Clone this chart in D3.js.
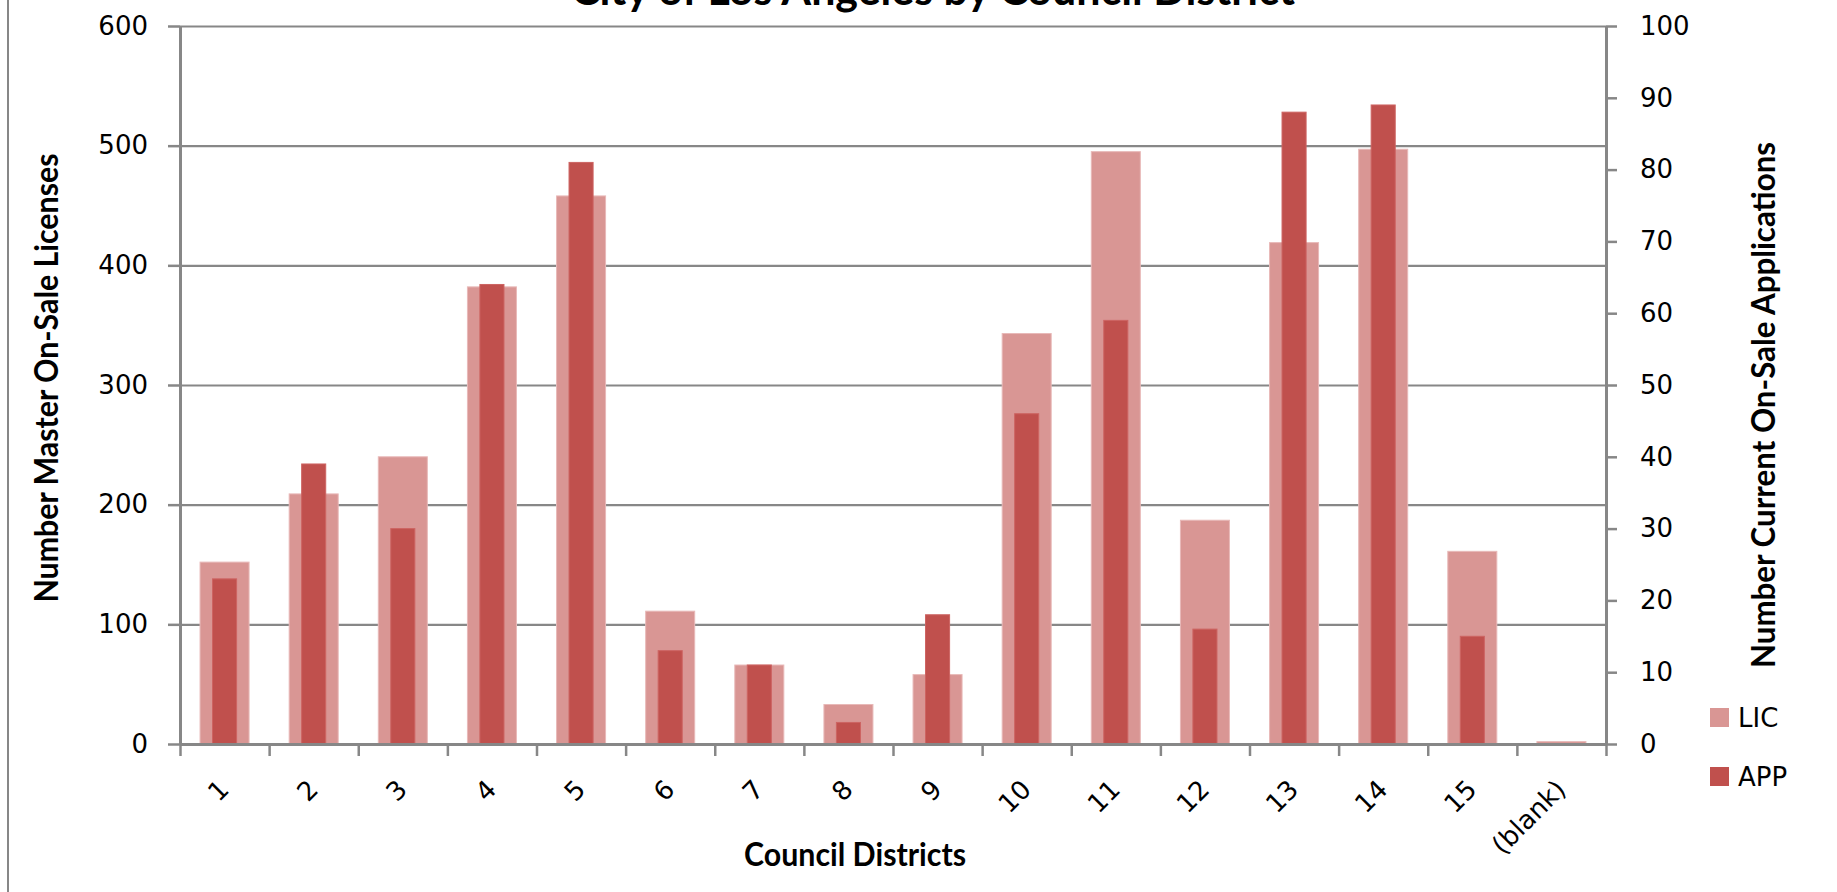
<!DOCTYPE html>
<html>
<head>
<meta charset="utf-8">
<script src="https://cdn.jsdelivr.net/npm/d3@7"></script>
<style>
  body { margin: 0; background: #fff; }
  .tick text { font-family: "DejaVu Sans", Verdana, sans-serif; font-size: 26px; fill: #000; }
  .ttl { font-family: Lato, "Open Sans", sans-serif; font-weight: bold; fill: #000; }
</style>
</head>
<body>
<script>
// values
const districts = ["1", "2", "3", "4", "5", "6", "7", "8", "9", "10", "11", "12", "13", "14", "15", "(blank)"];
const licValues = [152, 209, 240, 382, 458, 111, 66, 33, 58, 343, 495, 187, 419, 497, 161, 2];
const appValues = [23, 39, 30, 64, 81, 13, 11, 3, 18, 46, 59, 16, 88, 89, 15, 0];
const leftTicks = [0, 100, 200, 300, 400, 500, 600];
const rightTicks = [0, 10, 20, 30, 40, 50, 60, 70, 80, 90, 100];
const seriesNames = ["LIC", "APP"];
const seriesColors = ["#d99694", "#c0504d"];

const w = 1837;
const h = 892;
const plotL = 180, plotR = 1606, plotT = 26, plotB = 744;
const gridColor = "#878787";

const svg = d3.select("body").append("svg")
  .attr("width", w)
  .attr("height", h);

// left border of the chart area
svg.append("line")
  .attr("x1", 8).attr("x2", 8)
  .attr("y1", 0).attr("y2", h)
  .attr("stroke", gridColor)
  .attr("stroke-width", 2);

// scales
const xScale = d3.scaleBand()
  .domain(districts)
  .range([plotL, plotR])
  .paddingInner(0)
  .paddingOuter(0);

const xEdges = d3.scaleLinear()
  .domain([0, districts.length])
  .range([plotL, plotR]);

const yLeft = d3.scaleLinear()
  .domain([0, 600])
  .range([plotB, plotT]);

const yRight = d3.scaleLinear()
  .domain([0, 100])
  .range([plotB, plotT]);

// gridlines
svg.append("g")
  .attr("transform", `translate(${plotL},0)`)
  .call(d3.axisLeft(yLeft).tickValues(leftTicks).tickSize(-(plotR - plotL)).tickFormat(""))
  .call(g => g.select(".domain").remove())
  .call(g => g.selectAll("line").attr("stroke", gridColor).attr("stroke-width", 2.2));

// bars
const bw = xScale.bandwidth();
svg.append("g").selectAll("rect")
  .data(licValues)
  .enter()
  .append("rect")
  .attr("x", (d, i) => xScale(districts[i]) + bw / 2 - bw * 0.275)
  .attr("y", d => yLeft(d))
  .attr("width", bw * 0.55)
  .attr("height", d => plotB - yLeft(d))
  .attr("fill", seriesColors[0])
  .attr("stroke", "#e8b9b8")
  .attr("stroke-width", 1);

svg.append("g").selectAll("rect")
  .data(appValues)
  .enter()
  .append("rect")
  .attr("x", (d, i) => xScale(districts[i]) + bw / 2 - bw * 0.135)
  .attr("y", d => yRight(d))
  .attr("width", bw * 0.27)
  .attr("height", d => plotB - yRight(d))
  .attr("fill", seriesColors[1])
  .attr("stroke", d => d > 0 ? "#cd6462" : "none")
  .attr("stroke-width", 1);

// axes
const styleAxis = g => {
  g.select(".domain").attr("stroke", gridColor).attr("stroke-width", 3);
  g.selectAll(".tick line").attr("stroke", gridColor).attr("stroke-width", 2.5);
};

svg.append("g")
  .attr("transform", `translate(${plotL},0)`)
  .call(d3.axisLeft(yLeft).tickValues(leftTicks).tickSize(12).tickSizeOuter(0).tickPadding(20))
  .call(styleAxis);

svg.append("g")
  .attr("transform", `translate(${plotR},0)`)
  .call(d3.axisRight(yRight).tickValues(rightTicks).tickSize(11).tickSizeOuter(0).tickPadding(23))
  .call(styleAxis);

// x axis: tick marks at category edges
svg.append("g")
  .attr("transform", `translate(0,${plotB})`)
  .call(d3.axisBottom(xEdges).tickValues(d3.range(districts.length + 1)).tickSize(12).tickSizeOuter(0).tickFormat(""))
  .call(styleAxis);

// x labels, rotated
svg.append("g")
  .attr("transform", `translate(0,${plotB})`)
  .call(d3.axisBottom(xScale).tickSize(0).tickSizeOuter(0))
  .call(g => g.select(".domain").remove())
  .call(g => g.selectAll(".tick text")
    .attr("text-anchor", "end")
    .attr("dy", null)
    .attr("y", 0)
    .attr("transform", "translate(6,47) rotate(-45)"));

// titles (the chart title is cropped at the top edge, as in the source image)
svg.append("text")
  .attr("class", "ttl")
  .attr("x", 933)
  .attr("y", 5)
  .attr("text-anchor", "middle")
  .attr("font-size", 44)
  .attr("textLength", 724)
  .attr("lengthAdjust", "spacingAndGlyphs")
  .text("City of Los Angeles by Council District");

svg.append("text")
  .attr("class", "ttl")
  .attr("transform", "translate(58,378) rotate(-90)")
  .attr("text-anchor", "middle")
  .attr("font-size", 32)
  .attr("textLength", 449)
  .attr("lengthAdjust", "spacingAndGlyphs")
  .text("Number Master On-Sale Licenses");

svg.append("text")
  .attr("class", "ttl")
  .attr("transform", "translate(1775,405) rotate(-90)")
  .attr("text-anchor", "middle")
  .attr("font-size", 32)
  .attr("textLength", 526)
  .attr("lengthAdjust", "spacingAndGlyphs")
  .text("Number Current On-Sale Applications");

svg.append("text")
  .attr("class", "ttl")
  .attr("x", 855)
  .attr("y", 866)
  .attr("text-anchor", "middle")
  .attr("font-size", 32)
  .attr("textLength", 222)
  .attr("lengthAdjust", "spacingAndGlyphs")
  .text("Council Districts");

// legend
const legend = svg.append("g").attr("transform", "translate(1710,708)");
seriesNames.forEach((name, i) => {
  legend.append("rect")
    .attr("x", 0)
    .attr("y", i * 59)
    .attr("width", 19)
    .attr("height", 19)
    .attr("fill", seriesColors[i]);
  legend.append("text")
    .attr("x", 28)
    .attr("y", i * 59 + 10)
    .attr("dy", "0.35em")
    .attr("font-family", "DejaVu Sans, Verdana, sans-serif")
    .attr("font-size", 26)
    .text(name);
});
</script>
</body>
</html>
